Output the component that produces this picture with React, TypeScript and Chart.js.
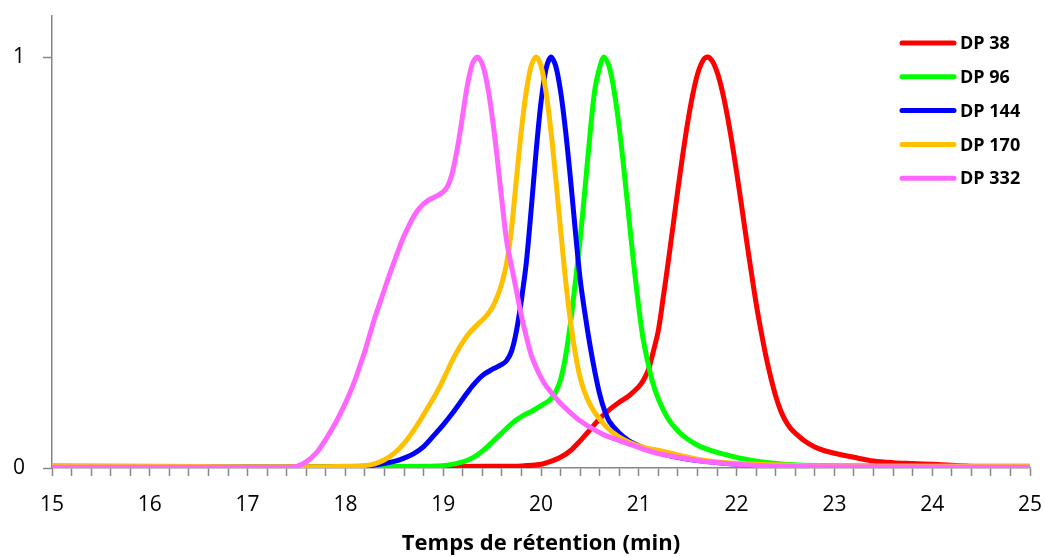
import React, { useEffect, useRef } from "react";
import { Chart, registerables } from "chart.js";

Chart.register(...registerables);

const seriesLabels = ["DP 38", "DP 96", "DP 144", "DP 170", "DP 332"];
const seriesColors = ["#FF0000", "#00FF00", "#0000FF", "#FFC000", "#FF66FF"];

const dp38X = [15, 17, 18.5, 19.5, 19.8, 20.0, 20.1, 20.2, 20.3, 20.4, 20.5, 20.6, 20.7, 20.8, 20.9, 21.0, 21.05, 21.1, 21.15, 21.2, 21.25, 21.3, 21.35, 21.4, 21.45, 21.5, 21.55, 21.6, 21.65, 21.7, 21.75, 21.8, 21.85, 21.9, 21.95, 22.0, 22.05, 22.1, 22.15, 22.2, 22.25, 22.3, 22.35, 22.4, 22.45, 22.5, 22.55, 22.6, 22.7, 22.8, 22.9, 23.0, 23.2, 23.4, 23.6, 23.8, 24.0, 24.2, 24.35, 24.45, 25];
const dp38Y = [0.003, 0.003, 0.003, 0.004, 0.005, 0.009, 0.016, 0.026, 0.042, 0.066, 0.093, 0.12, 0.142, 0.16, 0.176, 0.198, 0.215, 0.24, 0.285, 0.335, 0.415, 0.5, 0.589, 0.678, 0.763, 0.841, 0.907, 0.958, 0.989, 1.0, 0.991, 0.964, 0.921, 0.864, 0.796, 0.72, 0.64, 0.557, 0.477, 0.4, 0.333, 0.272, 0.22, 0.175, 0.14, 0.115, 0.097, 0.085, 0.065, 0.051, 0.042, 0.036, 0.026, 0.017, 0.013, 0.011, 0.009, 0.007, 0.005, 0.003, 0.003];

const dp96X = [15, 18, 18.8, 19.04, 19.2, 19.31, 19.41, 19.51, 19.62, 19.72, 19.82, 19.92, 20.0, 20.09, 20.15, 20.2, 20.25, 20.3, 20.35, 20.4, 20.45, 20.5, 20.55, 20.6, 20.64, 20.69, 20.74, 20.79, 20.84, 20.89, 20.94, 20.99, 21.04, 21.09, 21.14, 21.2, 21.3, 21.4, 21.5, 21.63, 21.8, 21.9, 22.05, 22.24, 22.4, 22.58, 22.8, 23, 25];
const dp96Y = [0.004, 0.003, 0.004, 0.007, 0.015, 0.026, 0.043, 0.065, 0.09, 0.112, 0.128, 0.14, 0.152, 0.165, 0.185, 0.215, 0.27, 0.35, 0.45, 0.555, 0.68, 0.81, 0.92, 0.975, 1.0, 0.982, 0.929, 0.847, 0.744, 0.63, 0.514, 0.41, 0.32, 0.26, 0.21, 0.168, 0.12, 0.09, 0.07, 0.052, 0.038, 0.032, 0.023, 0.015, 0.011, 0.008, 0.006, 0.005, 0.004];

const dp144X = [15, 17.5, 18.1, 18.3, 18.5, 18.6, 18.7, 18.8, 18.9, 19.0, 19.1, 19.2, 19.3, 19.4, 19.5, 19.6, 19.65, 19.7, 19.75, 19.8, 19.85, 19.9, 19.95, 20.0, 20.05, 20.1, 20.15, 20.2, 20.25, 20.3, 20.35, 20.4, 20.45, 20.5, 20.55, 20.6, 20.65, 20.7, 20.8, 20.9, 21.0, 21.1, 21.25, 21.42, 21.6, 21.9, 22.2, 22.6, 23, 25];
const dp144Y = [0.003, 0.002, 0.003, 0.007, 0.016, 0.024, 0.035, 0.052, 0.078, 0.105, 0.135, 0.168, 0.2, 0.225, 0.24, 0.252, 0.262, 0.285, 0.335, 0.41, 0.5, 0.63, 0.77, 0.89, 0.97, 1.0, 0.979, 0.917, 0.823, 0.707, 0.58, 0.46, 0.375, 0.3, 0.235, 0.18, 0.14, 0.113, 0.085, 0.066, 0.054, 0.045, 0.034, 0.025, 0.018, 0.011, 0.007, 0.005, 0.004, 0.003];

const dp170X = [15, 16, 17, 17.6, 18.0, 18.2, 18.3, 18.4, 18.5, 18.6, 18.7, 18.8, 18.9, 18.97, 19.03, 19.1, 19.17, 19.24, 19.3, 19.35, 19.4, 19.45, 19.5, 19.55, 19.6, 19.65, 19.7, 19.75, 19.8, 19.85, 19.9, 19.95, 20.0, 20.05, 20.1, 20.15, 20.2, 20.25, 20.3, 20.35, 20.4, 20.47, 20.55, 20.67, 20.8, 20.91, 21.05, 21.22, 21.4, 21.55, 21.7, 21.9, 22.2, 22.5, 23, 25];
const dp170Y = [0.006, 0.004, 0.003, 0.003, 0.004, 0.006, 0.01, 0.02, 0.036, 0.06, 0.092, 0.13, 0.17, 0.2, 0.23, 0.265, 0.295, 0.32, 0.337, 0.349, 0.36, 0.373, 0.39, 0.415, 0.45, 0.5, 0.585, 0.707, 0.823, 0.917, 0.979, 1.0, 0.979, 0.917, 0.823, 0.707, 0.581, 0.46, 0.36, 0.28, 0.22, 0.17, 0.135, 0.1, 0.075, 0.062, 0.05, 0.042, 0.032, 0.024, 0.018, 0.013, 0.009, 0.007, 0.005, 0.004];

const dp332X = [15, 17.4, 17.5, 17.6, 17.7, 17.8, 17.9, 18.0, 18.05, 18.1, 18.15, 18.2, 18.25, 18.3, 18.35, 18.4, 18.45, 18.5, 18.55, 18.6, 18.65, 18.7, 18.75, 18.8, 18.85, 18.9, 18.95, 19.0, 19.05, 19.1, 19.15, 19.2, 19.25, 19.3, 19.35, 19.4, 19.45, 19.5, 19.55, 19.6, 19.65, 19.7, 19.75, 19.8, 19.85, 19.9, 19.95, 20.0, 20.06, 20.19, 20.3, 20.4, 20.53, 20.65, 20.74, 20.88, 21.0, 21.1, 21.22, 21.4, 21.55, 21.7, 21.9, 22.24, 22.5, 22.8, 25];
const dp332Y = [0.002, 0.002, 0.004, 0.015, 0.036, 0.07, 0.11, 0.158, 0.185, 0.215, 0.25, 0.285, 0.325, 0.365, 0.4, 0.435, 0.47, 0.503, 0.535, 0.565, 0.59, 0.613, 0.63, 0.643, 0.652, 0.658, 0.664, 0.672, 0.688, 0.725, 0.785, 0.86, 0.935, 0.985, 1.0, 0.983, 0.934, 0.857, 0.76, 0.651, 0.55, 0.49, 0.43, 0.37, 0.32, 0.275, 0.245, 0.22, 0.197, 0.16, 0.135, 0.115, 0.095, 0.08, 0.072, 0.06, 0.05, 0.042, 0.034, 0.026, 0.02, 0.015, 0.011, 0.006, 0.004, 0.003, 0.002];

const seriesX = [dp38X, dp96X, dp144X, dp170X, dp332X];
const seriesY = [dp38Y, dp96Y, dp144Y, dp170Y, dp332Y];

const xMin = 15;
const xMax = 25;
const xMinorStep = 0.2;
const yMax = 1.1;
const yTickValues = [0, 1];
const xTitle = "Temps de rétention (min)";

const AXIS_COLOR = "#868686";
const FONT = "'Open Sans', 'DejaVu Sans', sans-serif";

const legendPlugin = {
  id: "customLegend",
  afterDraw(chart: any) {
    const ctx = chart.ctx;
    ctx.save();
    chart.data.datasets.forEach((ds: any, i: number) => {
      const y = 43 + i * 33.8;
      ctx.strokeStyle = ds.borderColor;
      ctx.lineWidth = 5;
      ctx.lineCap = "round";
      ctx.beginPath();
      ctx.moveTo(902, y);
      ctx.lineTo(954, y);
      ctx.stroke();
      ctx.fillStyle = "#000000";
      ctx.font = "bold 18px " + FONT;
      ctx.textBaseline = "middle";
      ctx.textAlign = "left";
      ctx.fillText(ds.label, 960, y + 1);
    });
    ctx.restore();
  },
};

const zeroPad = (scale: any) => {
  scale.paddingTop = 0;
  scale.paddingBottom = 0;
  scale.paddingLeft = 0;
  scale.paddingRight = 0;
};

export default function App() {
  const canvasRef = useRef<HTMLCanvasElement | null>(null);

  useEffect(() => {
    const canvas = canvasRef.current;
    if (!canvas) return;
    const datasets = seriesLabels.map((label, i) => ({
      label,
      data: seriesX[i].map((x, j) => ({ x, y: seriesY[i][j] })),
      borderColor: seriesColors[i],
      backgroundColor: seriesColors[i],
      borderWidth: 5,
      pointRadius: 0,
      fill: false,
      tension: 0.3,
      borderCapStyle: "round" as const,
      borderJoinStyle: "round" as const,
      order: seriesLabels.length - i,
    }));

    const chart = new Chart(canvas, {
      type: "line",
      data: { datasets },
      options: {
        responsive: false,
        animation: false,
        devicePixelRatio: 1,
        layout: { padding: { top: 16, right: 15, left: 0, bottom: 0 } },
        plugins: {
          legend: { display: false },
          tooltip: { enabled: false },
        },
        scales: {
          x: {
            type: "linear",
            min: xMin,
            max: xMax,
            afterBuildTicks: (scale: any) => {
              const n = Math.round((xMax - xMin) / xMinorStep);
              const t = [];
              for (let i = 0; i <= n; i++) t.push({ value: Math.round((xMin + i * xMinorStep) * 10) / 10 });
              scale.ticks = t;
            },
            afterFit: (scale: any) => {
              scale.height = 89;
              zeroPad(scale);
            },
            ticks: {
              autoSkip: false,
              maxRotation: 0,
              padding: 16,
              color: "#000000",
              font: { family: FONT, size: 21 },
              callback: (v: any) => (Math.abs(v - Math.round(v)) < 1e-6 ? String(Math.round(v)) : ""),
            },
            grid: {
              drawOnChartArea: false,
              drawTicks: true,
              tickLength: 8,
              tickColor: AXIS_COLOR,
              tickWidth: 1.5,
            },
            border: { color: AXIS_COLOR, width: 1.5 },
            title: {
              display: true,
              text: xTitle,
              color: "#000000",
              font: { family: FONT, size: 22, weight: "bold" },
              padding: { top: 0, bottom: 0 },
            },
          },
          y: {
            type: "linear",
            min: 0,
            max: yMax,
            afterBuildTicks: (scale: any) => {
              scale.ticks = yTickValues.map((v) => ({ value: v }));
            },
            afterFit: (scale: any) => {
              scale.width = 52;
              zeroPad(scale);
            },
            ticks: {
              padding: 18,
              color: "#000000",
              font: { family: FONT, size: 21 },
              callback: (v: any) => String(v),
            },
            grid: {
              drawOnChartArea: false,
              drawTicks: true,
              tickLength: 9,
              tickColor: AXIS_COLOR,
              tickWidth: 1.5,
            },
            border: { color: AXIS_COLOR, width: 1.5 },
          },
        },
      },
      plugins: [legendPlugin],
    });

    if ((document as any).fonts && (document as any).fonts.ready) {
      (document as any).fonts.ready.then(() => chart.update());
    }

    return () => {
      chart.destroy();
    };
  }, []);

  return (
    <div style={{ position: "fixed", left: 0, top: 0, width: 1045, height: 557, background: "#ffffff" }}>
      <canvas ref={canvasRef} width={1045} height={557} style={{ width: 1045, height: 557, display: "block" }} />
    </div>
  );
}
